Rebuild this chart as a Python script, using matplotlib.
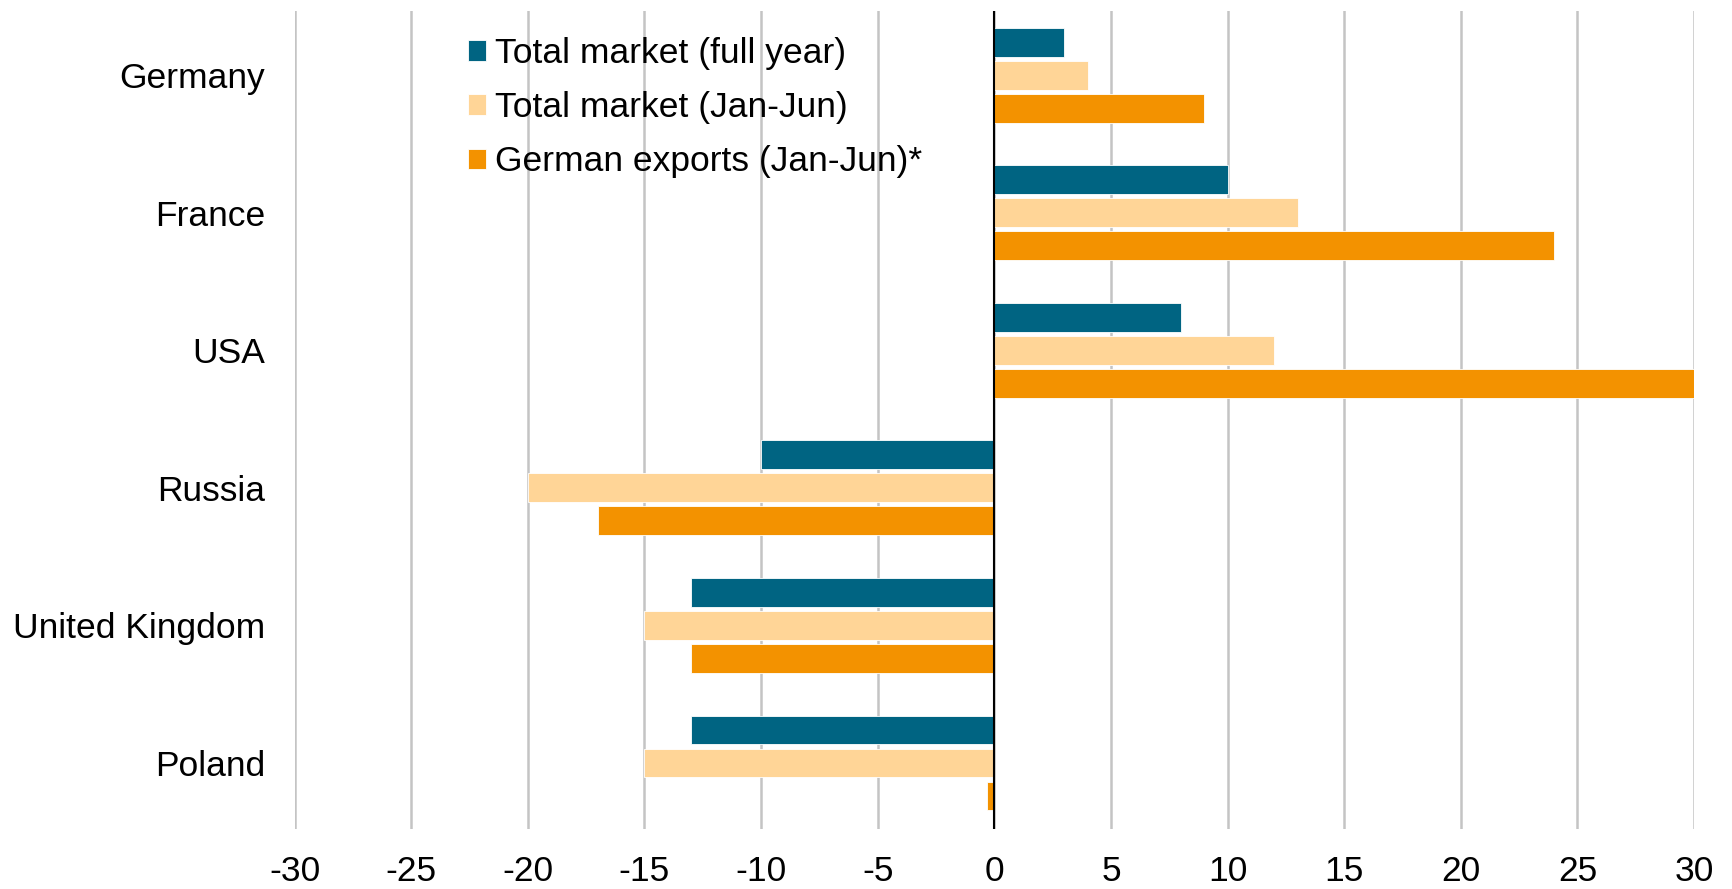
import matplotlib
matplotlib.use("Agg")
import matplotlib.pyplot as plt
import numpy as np

categories = ["Germany", "France", "USA", "Russia", "United Kingdom", "Poland"]
series_names = ["Total market (full year)", "Total market (Jan-Jun)", "German exports (Jan-Jun)*"]
full_year = [3, 10, 8, -10, -13, -13]
jan_jun = [4, 13, 12, -20, -15, -15]
exports = [9, 24, 30, -17, -13, -0.3]
xticks = [-30, -25, -20, -15, -10, -5, 0, 5, 10, 15, 20, 25, 30]

colors = ["#006482", "#FFD597", "#F39200"]

plt.rcParams['font.family'] = ['Liberation Sans', 'DejaVu Sans']

fig = plt.figure(figsize=(17.33, 8.89), dpi=100)
ax = fig.add_axes([0.170, 0.0675, 0.8075, 0.9205])

y = np.arange(len(categories))
h = 0.21
off = 0.24
for i, (vals, c, name) in enumerate(zip([full_year, jan_jun, exports], colors, series_names)):
    ax.barh(y + (i - 1) * off, vals, height=h, color=c, label=name,
            edgecolor="white", linewidth=0.6, zorder=3)

ax.set_xlim(-30, 30)
ax.set_ylim(5.48, -0.47)
ax.set_xticks(xticks)
ax.set_xticklabels([str(t) for t in xticks])
ax.set_yticks(y)
ax.set_yticklabels(categories)
ax.tick_params(axis='both', length=0, labelsize=25.5)
ax.tick_params(axis='x', pad=19)
ax.tick_params(axis='y', pad=21)

ax.grid(axis='x', color="#C4C4C4", linewidth=1.8, zorder=0)
ax.grid(axis='y', visible=False)
for s in ax.spines.values():
    s.set_visible(False)
ax.axvline(0, color="black", linewidth=1.5, zorder=4)

leg = fig.legend(loc="upper left", bbox_to_anchor=(468 / 1733, 1 - 37 / 889),
                 frameon=False, fontsize=25.5, handlelength=0.52, handleheight=0.52,
                 handletextpad=0.25, labelspacing=0.6, borderpad=0, borderaxespad=0)

fig.savefig("out.png", dpi=100)
